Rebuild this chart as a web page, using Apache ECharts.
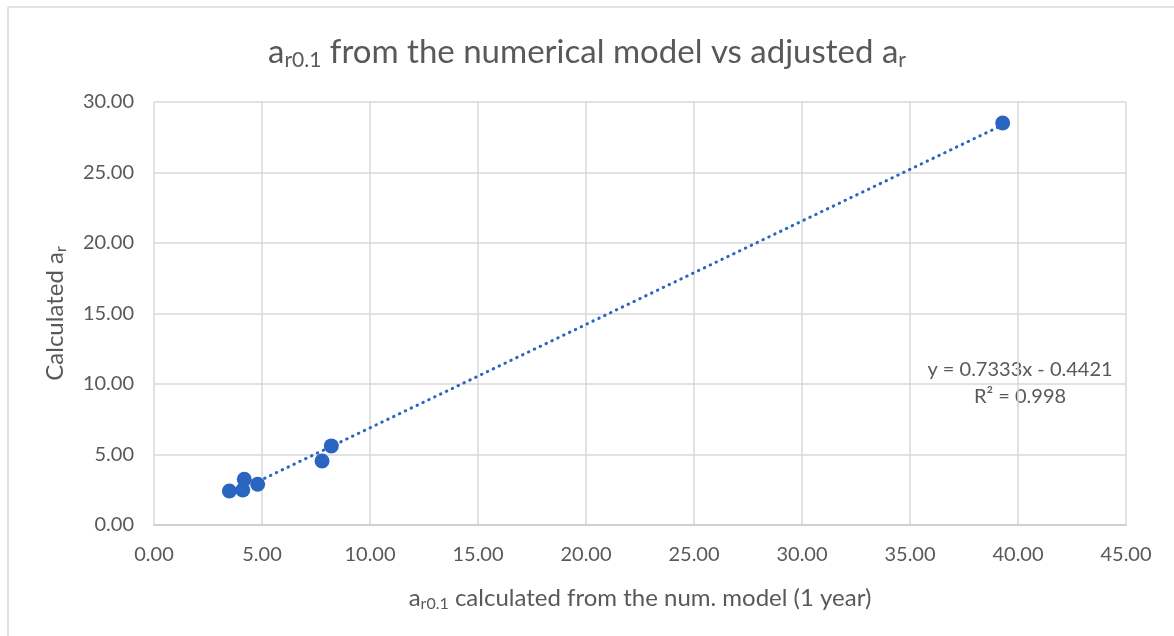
<!DOCTYPE html>
<html>
<head>
<meta charset="utf-8">
<script src="https://cdn.jsdelivr.net/npm/echarts@6/dist/echarts.min.js"></script>
<style>
  html, body { margin: 0; padding: 0; background: #fff; }
  #chart { width: 1174px; height: 636px; }
</style>
</head>
<body>
<div id="chart"></div>
<script>
// measured points: a_r0.1 (num. model) vs calculated a_r
const xValues = [3.49, 4.11, 4.18, 4.80, 7.78, 8.21, 39.29]
const yValues = [2.41, 2.48, 3.24, 2.89, 4.54, 5.61, 28.51]
// linear trendline as printed on the chart
const slope = 0.7333
const intercept = -0.4421
const rSquared = 0.998

const font = 'Lato, "Open Sans", sans-serif'
const grey = '#595959'
const blue = '#2b65c2'

const points = xValues.map((x, i) => [x, yValues[i]])
const xMin = Math.min(...xValues)
const xMax = Math.max(...xValues)
const trend = [xMin, xMax].map(x => [x, slope * x + intercept])

const chart = echarts.init(document.getElementById('chart'))
chart.setOption({
  animation: false,
  textStyle: { fontFamily: font },
  title: {
    text: '{a|a}{s|r0.1}{a| from the numerical model vs adjusted a}{s|r}',
    left: 'center',
    top: 28,
    textStyle: {
      rich: {
        a: { fontSize: 33, color: grey, fontFamily: font, fontWeight: 'normal' },
        s: { fontSize: 21, color: grey, fontFamily: font, fontWeight: 'normal', padding: [17, 0, 0, 0] }
      }
    }
  },
  grid: { left: 154, right: 48, top: 102, bottom: 111 },
  xAxis: {
    type: 'value',
    min: 0,
    max: 45,
    interval: 5,
    name: '{a|a}{s|r0.1}{a| calculated from the num. model (1 year)}',
    nameLocation: 'middle',
    nameGap: 60,
    nameTextStyle: {
      rich: {
        a: { fontSize: 24, color: grey, fontFamily: font },
        s: { fontSize: 16, color: grey, fontFamily: font, padding: [11, 0, 0, 0] }
      }
    },
    axisLine: { lineStyle: { color: '#d0d0d0', width: 2 } },
    axisTick: { show: false },
    axisLabel: { formatter: v => v.toFixed(2), color: grey, fontSize: 20, margin: 20 },
    splitLine: { lineStyle: { color: '#d9d9d9', width: 1.5 } }
  },
  yAxis: {
    type: 'value',
    min: 0,
    max: 30,
    interval: 5,
    name: '{a|Calculated a}{s|r}',
    nameLocation: 'middle',
    nameGap: 85,
    nameTextStyle: {
      rich: {
        a: { fontSize: 24, color: grey, fontFamily: font },
        s: { fontSize: 16, color: grey, fontFamily: font, padding: [11, 0, 0, 0] }
      }
    },
    axisLine: { show: false },
    axisTick: { show: false },
    axisLabel: { formatter: v => v.toFixed(2), color: grey, fontSize: 20, margin: 20 },
    splitLine: { lineStyle: { color: '#d9d9d9', width: 1.5 } }
  },
  series: [
    {
      type: 'line',
      data: trend,
      symbol: 'none',
      lineStyle: { color: blue, width: 3, type: [0.5, 6], cap: 'round' },
      z: 2
    },
    {
      type: 'scatter',
      data: points,
      symbolSize: 15,
      itemStyle: { color: blue, opacity: 1 },
      z: 3
    }
  ],
  graphic: [
    { type: 'line', shape: { x1: 8, y1: 7, x2: 1174, y2: 7 }, style: { stroke: '#d9d9d9', lineWidth: 1.5 } },
    { type: 'line', shape: { x1: 8, y1: 7, x2: 8, y2: 636 }, style: { stroke: '#d9d9d9', lineWidth: 1.5 } },
    {
      type: 'text',
      x: 1020,
      y: 383,
      style: {
        text: 'y = ' + slope + 'x - ' + Math.abs(intercept) + '\nR² = ' + rSquared,
        align: 'center',
        verticalAlign: 'middle',
        fill: grey,
        fontSize: 20,
        lineHeight: 27,
        fontFamily: font
      }
    }
  ]
})
</script>
</body>
</html>
